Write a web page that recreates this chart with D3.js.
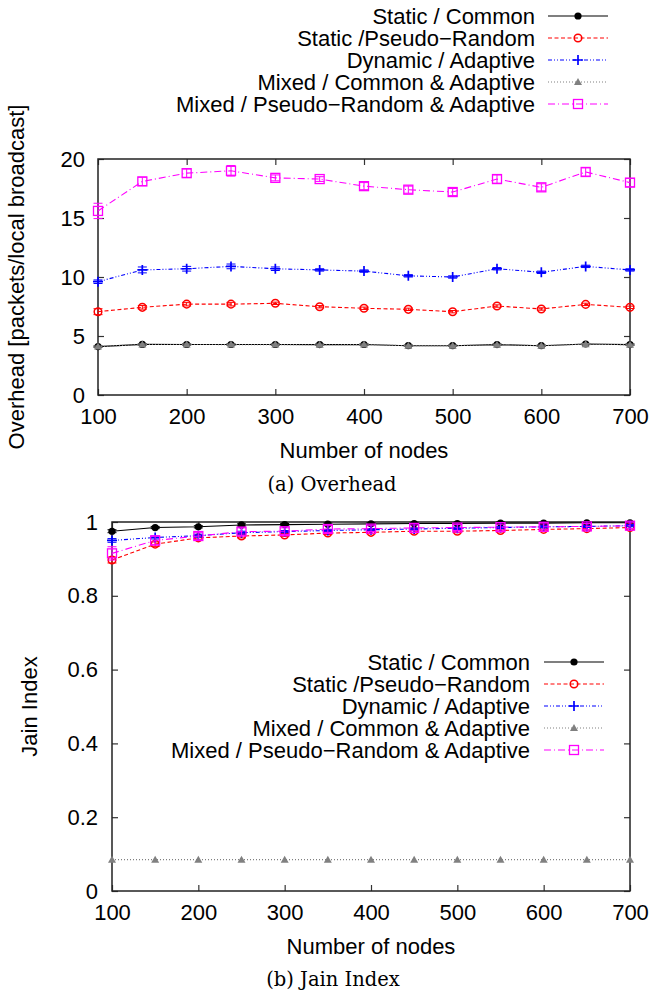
<!DOCTYPE html>
<html><head><meta charset="utf-8">
<script src="https://cdn.jsdelivr.net/npm/d3@7"></script>
<style>
body{margin:0;background:#fff;}
svg text{font-family:"Liberation Sans",Arial,Helvetica,sans-serif;fill:#000;}
.cap{font-family:"DejaVu Serif","Liberation Serif",serif;}
</style></head>
<body><svg id="c" width="655" height="996"></svg>
<script>
// ---------- data ----------
const nodes = [100,150,200,250,300,350,400,450,500,550,600,650,700];
const seriesNames = ["Static / Common","Static /Pseudo\u2212Random","Dynamic / Adaptive","Mixed / Common & Adaptive","Mixed / Pseudo\u2212Random & Adaptive"];
const xTicks = [100,200,300,400,500,600,700];
const ovTicks = [0,5,10,15,20];
const jTicks = [0,0.2,0.4,0.6,0.8,1];

// Overhead [packets/local broadcast]
const ovStaticCommon = [4.10,4.29,4.28,4.28,4.28,4.27,4.28,4.18,4.18,4.27,4.18,4.32,4.27];
const ovStaticPR     = [7.06,7.43,7.70,7.70,7.77,7.48,7.35,7.26,7.06,7.54,7.29,7.68,7.43];
const ovDynamic      = [9.60,10.60,10.70,10.90,10.70,10.60,10.50,10.10,10.00,10.70,10.40,10.90,10.60];
const ovMixedCommon  = [4.10,4.28,4.28,4.27,4.27,4.26,4.27,4.18,4.18,4.26,4.18,4.31,4.26];
const ovMixedPR      = [15.6,18.1,18.8,19.0,18.4,18.3,17.7,17.4,17.2,18.3,17.6,18.9,18.0];
const ovErrStaticCommon = [0.05,0.05,0.05,0.05,0.05,0.05,0.05,0.05,0.05,0.05,0.05,0.05,0.05];
const ovErrStaticPR     = [0.25,0.15,0.15,0.15,0.10,0.10,0.10,0.10,0.10,0.10,0.10,0.10,0.10];
const ovErrDynamic      = [0.15,0.25,0.20,0.20,0.15,0.10,0.10,0.10,0.10,0.10,0.10,0.10,0.10];
const ovErrMixedCommon  = [0.05,0.05,0.05,0.05,0.05,0.05,0.05,0.05,0.05,0.05,0.05,0.05,0.05];
const ovErrMixedPR      = [0.65,0.35,0.35,0.45,0.25,0.20,0.30,0.30,0.30,0.35,0.30,0.35,0.35];

// Jain Index
const jStaticCommon = [0.975,0.985,0.987,0.992,0.993,0.994,0.995,0.996,0.996,0.997,0.997,0.998,0.998];
const jStaticPR     = [0.897,0.940,0.957,0.962,0.965,0.970,0.972,0.975,0.975,0.977,0.980,0.982,0.985];
const jDynamic      = [0.950,0.958,0.963,0.971,0.974,0.977,0.979,0.981,0.983,0.985,0.987,0.988,0.990];
const jMixedCommon  = [0.085,0.085,0.085,0.085,0.085,0.085,0.085,0.085,0.085,0.085,0.085,0.085,0.085];
const jMixedPR      = [0.915,0.950,0.962,0.974,0.975,0.981,0.982,0.984,0.985,0.986,0.987,0.988,0.990];
const jErrStaticCommon = [0.004,0.003,0.003,0.003,0.003,0.003,0.003,0.003,0.003,0.003,0.003,0.003,0.003];
const jErrStaticPR     = [0.008,0.006,0.005,0.005,0.004,0.004,0.004,0.004,0.004,0.004,0.004,0.004,0.004];
const jErrDynamic      = [0.005,0.004,0.004,0.004,0.003,0.003,0.003,0.003,0.003,0.003,0.003,0.003,0.003];
const jErrMixedCommon  = [0,0,0,0,0,0,0,0,0,0,0,0,0];
const jErrMixedPR      = [0.018,0.012,0.010,0.010,0.009,0.009,0.008,0.008,0.008,0.008,0.008,0.008,0.008];

// ---------- styles ----------
const styles = [
  {color:"#000000", dash:null,        marker:"dot"},
  {color:"#ff0000", dash:"4,2.5",     marker:"circle"},
  {color:"#0000ff", dash:"4,2,1,2,1,2", marker:"plus"},
  {color:"#808080", dash:"1,2",       marker:"tri"},
  {color:"#ff00ff", dash:"7,3,1,3",   marker:"square"}
];

const svg = d3.select("#c");
const FS = 22;

function marker(g, type, color, x, y){
  if(type==="dot") g.append("circle").attr("cx",x).attr("cy",y).attr("r",3.6).attr("fill",color);
  else if(type==="circle") g.append("circle").attr("cx",x).attr("cy",y).attr("r",3.8).attr("fill","none").attr("stroke",color).attr("stroke-width",1.5);
  else if(type==="plus"){ g.append("path").attr("d",`M${x-5},${y}H${x+5}M${x},${y-5}V${y+5}`).attr("stroke",color).attr("stroke-width",1.7);}
  else if(type==="tri") g.append("path").attr("d",`M${x},${y-4}L${x+4},${y+3}L${x-4},${y+3}Z`).attr("fill",color);
  else if(type==="square") g.append("rect").attr("x",x-4.5).attr("y",y-4.5).attr("width",9).attr("height",9).attr("fill","none").attr("stroke",color).attr("stroke-width",1.3);
}

function drawChart(o){
  const x = d3.scaleLinear().domain([100,700]).range([o.left,o.right]);
  const y = d3.scaleLinear().domain(o.ydom).range([o.bottom,o.top]);
  const g = svg.append("g");
  const tl = 6;
  const axB = d3.axisBottom(x).tickValues(xTicks).tickSize(-tl).tickPadding(13).tickFormat(d3.format("d"));
  const axT = d3.axisTop(x).tickValues(xTicks).tickSize(-tl).tickFormat("");
  const axL = d3.axisLeft(y).tickValues(o.yticks).tickSize(-tl).tickPadding(o.ypad).tickFormat(o.yfmt);
  const axR = d3.axisRight(y).tickValues(o.yticks).tickSize(-tl).tickFormat("");
  [[axB,`translate(0,${o.bottom})`],[axT,`translate(0,${o.top})`],[axL,`translate(${o.left},0)`],[axR,`translate(${o.right},0)`]].forEach(([a,t])=>{
    const ag = g.append("g").attr("transform",t).call(a);
    ag.select(".domain").remove();
    ag.selectAll(".tick line").attr("stroke","#333").attr("stroke-width",1.2);
    ag.selectAll(".tick text").attr("font-size",FS).attr("font-family","Liberation Sans, Arial, sans-serif").attr("fill","#000");
  });
  g.append("rect").attr("x",o.left).attr("y",o.top).attr("width",o.right-o.left).attr("height",o.bottom-o.top)
    .attr("fill","none").attr("stroke","#222").attr("stroke-width",1.5);
  o.series.forEach((s,i)=>{
    const st = styles[i];
    const pts = nodes.map((n,k)=>({n, v:s.v[k], e:s.e[k]}));
    const sg = g.append("g");
    sg.append("path").datum(pts)
      .attr("d", d3.line().x(d=>x(d.n)).y(d=>y(d.v)))
      .attr("fill","none").attr("stroke",st.color).attr("stroke-width",1.1)
      .attr("stroke-dasharray",st.dash);
    pts.forEach(d=>{
      if(d.e>0){
        const y0=y(d.v-d.e), y1=y(d.v+d.e), xx=x(d.n);
        sg.append("path").attr("d",`M${xx},${y0}V${y1}M${xx-4.5},${y0}H${xx+4.5}M${xx-4.5},${y1}H${xx+4.5}`)
          .attr("stroke",st.color).attr("stroke-width",1).attr("fill","none");
      }
      marker(sg, st.marker, st.color, x(d.n), y(d.v));
    });
  });
  o.series.forEach((s,i)=>{
    const st = styles[i];
    const ly = o.legY + i*o.legDy;
    svg.append("text").attr("x",o.legTextX).attr("y",ly).attr("dy","0.35em").attr("text-anchor","end")
      .attr("font-size",o.legFont).text(seriesNames[i]);
    svg.append("line").attr("x1",o.legX1).attr("x2",o.legX2).attr("y1",ly).attr("y2",ly)
      .attr("stroke",st.color).attr("stroke-width",1.1).attr("stroke-dasharray",st.dash);
    marker(svg, st.marker, st.color, (o.legX1+o.legX2)/2, ly);
  });
  svg.append("text").attr("x",(o.left+o.right)/2).attr("y",o.bottom+63).attr("text-anchor","middle").attr("font-size",FS).text("Number of nodes");
  svg.append("text").attr("transform",`translate(${o.ytx},${(o.top+o.bottom)/2}) rotate(-90)`).attr("text-anchor","middle").attr("font-size",FS).text(o.ytitle);
  svg.append("text").attr("class","cap").attr("x",o.capX).attr("y",o.capY).attr("text-anchor","middle").attr("font-size",19.5).text(o.caption);
}

drawChart({
  left:98, right:630, top:159, bottom:395, ydom:[0,20], yticks:ovTicks, yfmt:d3.format("d"), ypad:13,
  series:[{v:ovStaticCommon,e:ovErrStaticCommon},{v:ovStaticPR,e:ovErrStaticPR},{v:ovDynamic,e:ovErrDynamic},{v:ovMixedCommon,e:ovErrMixedCommon},{v:ovMixedPR,e:ovErrMixedPR}],
  legY:16, legDy:22, legTextX:535, legX1:548, legX2:608, legFont:22,
  ytx:24, ytitle:"Overhead [packets/local broadcast]", caption:"(a)  Overhead", capX:332, capY:491
});
drawChart({
  left:112, right:630, top:522, bottom:891, ydom:[0,1], yticks:jTicks, yfmt:d=>d3.format("")(d), ypad:14,
  series:[{v:jStaticCommon,e:jErrStaticCommon},{v:jStaticPR,e:jErrStaticPR},{v:jDynamic,e:jErrDynamic},{v:jMixedCommon,e:jErrMixedCommon},{v:jMixedPR,e:jErrMixedPR}],
  legY:662, legDy:22, legTextX:530, legX1:544, legX2:604, legFont:22,
  ytx:37, ytitle:"Jain Index", caption:"(b)  Jain Index", capX:333, capY:986
});
</script></body></html>
